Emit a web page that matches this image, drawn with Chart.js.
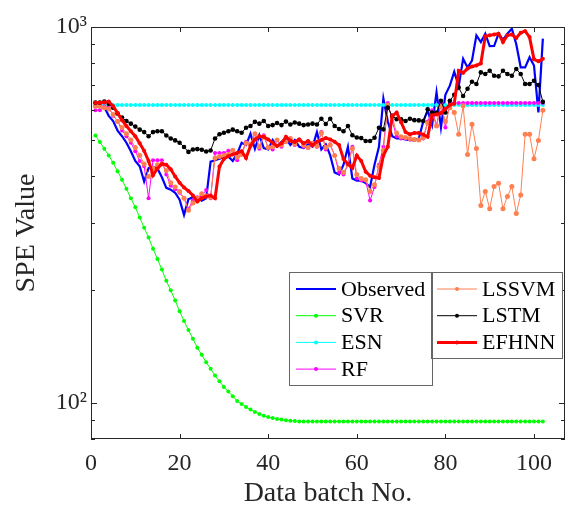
<!DOCTYPE html>
<html>
<head>
<meta charset="utf-8">
<script src="https://cdn.jsdelivr.net/npm/chart.js@4.4.0/dist/chart.umd.min.js"></script>
<style>
  html, body { margin: 0; padding: 0; background: #fff; }
  #wrap { width: 571px; height: 512px; }
</style>
</head>
<body>
<div id="wrap"><canvas id="speChart" width="571" height="512"></canvas></div>
<script>
// Dades del gràfic (llegides de la figura)
const batchNo = [
  1, 2, 3, 4, 5, 6, 7, 8, 9, 10, 11, 12, 13, 14, 15, 16, 17, 18, 19, 20,
  21, 22, 23, 24, 25, 26, 27, 28, 29, 30, 31, 32, 33, 34, 35, 36, 37, 38, 39, 40,
  41, 42, 43, 44, 45, 46, 47, 48, 49, 50, 51, 52, 53, 54, 55, 56, 57, 58, 59, 60,
  61, 62, 63, 64, 65, 66, 67, 68, 69, 70, 71, 72, 73, 74, 75, 76, 77, 78, 79, 80,
  81, 82, 83, 84, 85, 86, 87, 88, 89, 90, 91, 92, 93, 94, 95, 96, 97, 98, 99, 100,
  101, 102
];

const observed = [
  615, 615, 612, 580, 562, 530, 512, 492, 467, 440,
  426, 388, 421, 424, 420, 398, 373, 369, 362, 347,
  316, 348, 352, 352, 345, 350, 438, 442, 446, 450,
  452, 440, 460, 492, 485, 520, 474, 515, 476, 472,
  500, 480, 495, 505, 485, 500, 480, 476, 487, 480,
  525, 472, 487, 455, 410, 405, 430, 480, 395, 390,
  390, 384, 375, 430, 480, 645, 560, 512, 505, 505,
  502, 500, 500, 505, 560, 600, 548, 670, 540, 660,
  698, 760, 695, 823, 780, 814, 950, 912, 960, 889,
  890, 960, 925, 960, 990, 900, 781, 781, 831, 790,
  592, 931
];

const svr = [
  514, 494, 474, 455, 435, 413, 392, 371, 350, 331,
  311, 292, 275, 257, 241, 226, 211, 199, 187, 175,
  165, 156, 148, 140, 134, 128, 123, 118, 114, 110,
  107, 104, 101, 99.2, 97.4, 95.8, 94.4, 93.2, 92.3, 91.5,
  91.0, 90.4, 90.1, 89.7, 89.5, 89.3, 89.1, 89.1, 89.1, 89.1,
  89.1, 89.1, 89.1, 89.1, 89.1, 89.1, 89.1, 89.1, 89.1, 89.1,
  89.1, 89.1, 89.1, 89.1, 89.1, 89.1, 89.1, 89.1, 89.1, 89.1,
  89.1, 89.1, 89.1, 89.1, 89.1, 89.1, 89.1, 89.1, 89.1, 89.1,
  89.1, 89.1, 89.1, 89.1, 89.1, 89.1, 89.1, 89.1, 89.1, 89.1,
  89.1, 89.1, 89.1, 89.1, 89.1, 89.1, 89.1, 89.1, 89.1, 89.1,
  89.1, 89.1
];

const esn = [
  620, 620, 620, 620, 620, 620, 620, 620, 620, 620,
  620, 620, 620, 620, 620, 620, 620, 620, 620, 620,
  620, 620, 620, 620, 620, 620, 620, 620, 620, 620,
  620, 620, 620, 620, 620, 620, 620, 620, 620, 620,
  620, 620, 620, 620, 620, 620, 620, 620, 620, 620,
  620, 620, 620, 620, 620, 620, 620, 620, 620, 620,
  620, 620, 620, 620, 620, 620, 620, 620, 620, 620,
  620, 620, 620, 620, 620, 620, 620, 620, 620, 620,
  620, 620, 620, 620, 620, 620, 620, 620, 620, 620,
  620, 620, 620, 620, 620, 620, 620, 620, 620, 620,
  620, 620
];

const rf = [
  600, 600, 615, 612, 580, 562, 530, 512, 492, 467,
  440, 426, 350, 442, 442, 442, 405, 378, 370, 362,
  350, 328, 345, 352, 355, 368, 350, 462, 462, 462,
  468, 470, 442, 460, 495, 485, 520, 474, 515, 476,
  472, 500, 480, 495, 505, 485, 500, 480, 476, 487,
  480, 525, 472, 487, 455, 410, 405, 430, 480, 395,
  390, 390, 345, 375, 430, 480, 628, 560, 512, 505,
  505, 502, 500, 500, 505, 560, 600, 548, 628, 540,
  628, 628, 628, 628, 628, 628, 628, 628, 628, 628,
  628, 628, 628, 628, 628, 628, 628, 628, 628, 628,
  628, 628
];

const lssvm = [
  615, 615, 610, 605, 585, 560, 540, 520, 500, 478,
  455, 432, 400, 420, 430, 432, 415, 385, 375, 365,
  350, 325, 340, 350, 360, 355, 352, 448, 452, 455,
  458, 470, 450, 458, 490, 488, 520, 480, 510, 478,
  480, 500, 485, 495, 505, 488, 500, 484, 478, 490,
  482, 522, 478, 485, 455, 420, 410, 430, 475, 405,
  395, 392, 365, 380, 425, 470, 620, 575, 522, 510,
  508, 505, 502, 500, 508, 555, 590, 545, 615, 560,
  610, 592, 518, 617, 458, 551, 475, 335, 365, 328,
  376, 384, 328, 354, 376, 319, 357, 518, 518, 446,
  499, 600
];

const lstm = [
  629, 629, 633, 625, 610, 588, 574, 562, 553, 543,
  533, 525, 512, 525, 528, 528, 514, 505, 499, 492,
  479, 465, 472, 473, 471, 466, 469, 505, 518, 523,
  528, 533, 528, 523, 539, 545, 559, 553, 562, 545,
  548, 555, 548, 560, 550, 557, 553, 548, 550, 553,
  550, 570, 552, 570, 545, 535, 528, 545, 515, 508,
  506, 497, 497, 507, 539, 534, 610, 580, 568, 568,
  562, 570, 565, 564, 562, 604, 592, 592, 636, 592,
  636, 660, 690, 655, 685, 715, 705, 757, 750, 765,
  742, 739, 765, 750, 742, 773, 750, 705, 705, 719,
  701, 632
];

const efhnn = [
  629, 629, 630, 633, 615, 590, 565, 545, 528, 512,
  490, 468, 440, 403, 420, 432, 430, 418, 400, 385,
  374, 366, 356, 343, 350, 354, 356, 350, 425, 445,
  453, 458, 462, 467, 448, 482, 502, 512, 510, 502,
  492, 482, 490, 510, 498, 494, 502, 490, 497, 484,
  495, 500, 506, 502, 495, 485, 445, 432, 421, 455,
  440, 412, 402, 398, 396, 455, 480, 580, 592, 558,
  525, 518, 522, 522, 517, 510, 582, 585, 590, 605,
  620, 625, 765, 755, 775, 785, 790, 800, 945, 950,
  955, 960, 912, 950, 955, 935, 965, 975, 940, 820,
  810, 823
];

const xTickVals = [0, 20, 40, 60, 80, 100];
const yTickVals = [80, 90, 100, 200, 300, 400, 500, 600, 700, 800, 900, 1000];
const yTickLabels = { 100: '10\u00B2', 1000: '10\u00B3' };

// Configuració de les sèries
const seriesCfg = [
  { label: 'Observed', data: observed, color: '#0000ff', width: 2.2, radius: 0 },
  { label: 'SVR',      data: svr,      color: '#00ff00', width: 1,   radius: 2 },
  { label: 'ESN',      data: esn,      color: '#00ffff', width: 1,   radius: 2 },
  { label: 'RF',       data: rf,       color: '#ff00ff', width: 1,   radius: 2 },
  { label: 'LSSVM',    data: lssvm,    color: '#ff7f50', width: 1,   radius: 2.5 },
  { label: 'LSTM',     data: lstm,     color: '#000000', width: 1,   radius: 2.3 },
  { label: 'EFHNN',    data: efhnn,    color: '#ff0000', width: 3,   radius: 2 }
];

const serif = "'Liberation Serif', 'Times New Roman', serif";
const axisColor = '#262626';
Chart.defaults.font.family = serif;
Chart.defaults.color = axisColor;

// Marc de l'eix i marques cap a dins
const axisBox = {
  id: 'axisBox',
  afterDatasetsDraw(chart) {
    const { ctx, chartArea: a, scales: { x, y } } = chart;
    ctx.save();
    ctx.strokeStyle = axisColor;
    ctx.lineWidth = 1;
    ctx.beginPath();
    x.ticks.forEach(t => {
      const px = Math.round(x.getPixelForValue(t.value)) + 0.5;
      ctx.moveTo(px, a.bottom); ctx.lineTo(px, a.bottom - 5);
      ctx.moveTo(px, a.top); ctx.lineTo(px, a.top + 5);
    });
    y.ticks.forEach(t => {
      const py = Math.round(y.getPixelForValue(t.value)) + 0.5;
      const len = yTickLabels[t.value] ? 6 : 4;
      ctx.moveTo(a.left, py); ctx.lineTo(a.left + len, py);
      ctx.moveTo(a.right, py); ctx.lineTo(a.right - len, py);
    });
    ctx.stroke();
    ctx.strokeRect(a.left + 0.5, a.top + 0.5, a.width - 1, a.height - 1);
    ctx.restore();
  }
};

// Llegenda en dues caixes, com a la figura original
const legendBoxes = {
  id: 'legendBoxes',
  afterDraw(chart) {
    const ctx = chart.ctx;
    const boxes = [
      { x: 289.5, y: 272.5, w: 143, h: 113, lx: 296, items: [0, 1, 2, 3] },
      { x: 431.5, y: 272.5, w: 131, h: 86, lx: 437, items: [4, 5, 6] }
    ];
    ctx.save();
    boxes.forEach(b => {
      ctx.fillStyle = '#ffffff';
      ctx.fillRect(b.x, b.y, b.w, b.h);
    });
    boxes.forEach(b => {
      ctx.strokeStyle = '#666666';
      ctx.lineWidth = 1;
      ctx.strokeRect(b.x, b.y, b.w, b.h);
      b.items.forEach((idx, row) => {
        const ds = chart.data.datasets[idx];
        const cy = b.y + 16.5 + row * 26.7;
        ctx.strokeStyle = ds.borderColor;
        ctx.lineWidth = ds.borderWidth;
        ctx.beginPath();
        ctx.moveTo(b.lx, cy);
        ctx.lineTo(b.lx + 40, cy);
        ctx.stroke();
        if (ds.pointRadius > 0) {
          ctx.fillStyle = ds.borderColor;
          ctx.beginPath();
          ctx.arc(b.lx + 20, cy, 2, 0, Math.PI * 2);
          ctx.fill();
        }
        ctx.fillStyle = '#000000';
        ctx.font = '22px ' + serif;
        ctx.textBaseline = 'middle';
        ctx.textAlign = 'left';
        ctx.fillText(ds.label, b.lx + 45, cy + 1);
      });
    });
    ctx.restore();
  }
};

const ctx = document.getElementById('speChart').getContext('2d');
const speChart = new Chart(ctx, {
  type: 'line',
  data: {
    datasets: seriesCfg.map((s, k) => ({
      label: s.label,
      data: batchNo.map((b, i) => ({ x: b, y: s.data[i] })),
      borderColor: s.color,
      backgroundColor: s.color,
      borderWidth: s.width,
      pointRadius: s.radius,
      pointBorderWidth: 0,
      pointBackgroundColor: s.color,
      tension: 0,
      fill: false,
      order: seriesCfg.length - k
    }))
  },
  options: {
    responsive: false,
    animation: false,
    events: [],
    layout: { padding: { top: 27, right: 6, left: 0, bottom: 0 } },
    plugins: {
      legend: { display: false },
      tooltip: { enabled: false }
    },
    scales: {
      x: {
        type: 'linear',
        min: 0,
        max: 107,
        afterBuildTicks: s => { s.ticks = xTickVals.map(v => ({ value: v })); },
        afterFit: s => { s.height = 73; },
        grid: { display: false, drawTicks: false },
        border: { display: false },
        ticks: { autoSkip: false, maxRotation: 0, padding: 10, font: { size: 24 }, color: axisColor },
        title: { display: true, text: 'Data batch No.', font: { size: 28 }, color: axisColor, padding: { top: 0, bottom: 2 } }
      },
      y: {
        type: 'logarithmic',
        min: 80,
        max: 1000,
        afterBuildTicks: s => { s.ticks = yTickVals.map(v => ({ value: v })); },
        afterFit: s => { s.width = 91; },
        grid: { display: false, drawTicks: false },
        border: { display: false },
        ticks: {
          autoSkip: false,
          padding: 4,
          font: { size: 24 },
          color: axisColor,
          callback: v => yTickLabels[v] || ''
        },
        title: { display: true, text: 'SPE Value', font: { size: 28 }, color: axisColor, padding: { top: 10, bottom: 0 } }
      }
    }
  },
  plugins: [axisBox, legendBoxes]
});
</script>
</body>
</html>
